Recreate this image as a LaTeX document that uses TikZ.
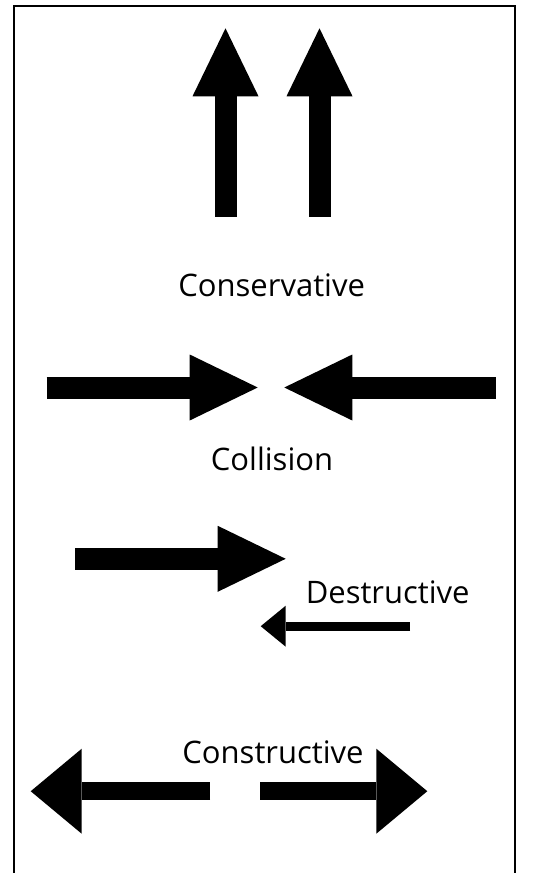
\documentclass[tikz,border=0pt]{standalone}
\usepackage{fontspec}
\setmainfont{Open Sans}
\usetikzlibrary{arrows.meta}

\begin{document}
\begin{tikzpicture}[x=1pt,y=-1pt]
  \tikzset{bigarrow/.style={line width=22pt,-{Triangle[length=68pt,width=66pt,line width=0pt]}},
    smallarrow/.style={line width=9pt,-{Triangle[length=25pt,width=41pt,line width=0pt]}},
    widearrow/.style={line width=17.7pt,-{Triangle[length=51pt,width=85pt,line width=0pt]}},
    caption/.style={anchor=base,inner sep=0pt,font=\fontsize{31}{34}\selectfont}}
  \useasboundingbox (0,0) rectangle (536,873);
  % frame, open at the bottom
  \draw[line width=2pt] (14,873) -- (14,5.5) -- (515,5.5) -- (515,873);
  % conservative
  \coordinate (up1s) at (225.5,216.7);
  \coordinate (up1e) at (225.5,28.3);
  \coordinate (up2s) at (319.5,216.7);
  \coordinate (up2e) at (319.5,28.3);
  \draw[bigarrow] (up1s) -- (up1e);
  \draw[bigarrow] (up2s) -- (up2e);
  \node[caption] (cons) at (271.7,296.7) {Conservative};
  % collision
  \coordinate (colLs) at (46.7,387.5);
  \coordinate (colLe) at (257.7,387.5);
  \coordinate (colRs) at (495.7,387.5);
  \coordinate (colRe) at (284.3,387.5);
  \draw[bigarrow] (colLs) -- (colLe);
  \draw[bigarrow] (colRs) -- (colRe);
  \node[caption] (coll) at (272,470) {Collision};
  % destructive
  \coordinate (desBs) at (75,558.8);
  \coordinate (desBe) at (285.7,558.8);
  \coordinate (desSs) at (410,626.2);
  \coordinate (desSe) at (260.7,626.2);
  \draw[bigarrow] (desBs) -- (desBe);
  \draw[smallarrow] (desSs) -- (desSe);
  \node[caption] (dest) at (387.7,603.3) {Destructive};
  % constructive
  \coordinate (conLs) at (210,791.2);
  \coordinate (conLe) at (30.7,791.2);
  \coordinate (conRs) at (260,791.2);
  \coordinate (conRe) at (427.3,791.2);
  \draw[widearrow] (conLs) -- (conLe);
  \draw[widearrow] (conRs) -- (conRe);
  \node[caption] (cstr) at (273,763.3) {Constructive};
\end{tikzpicture}
\end{document}
